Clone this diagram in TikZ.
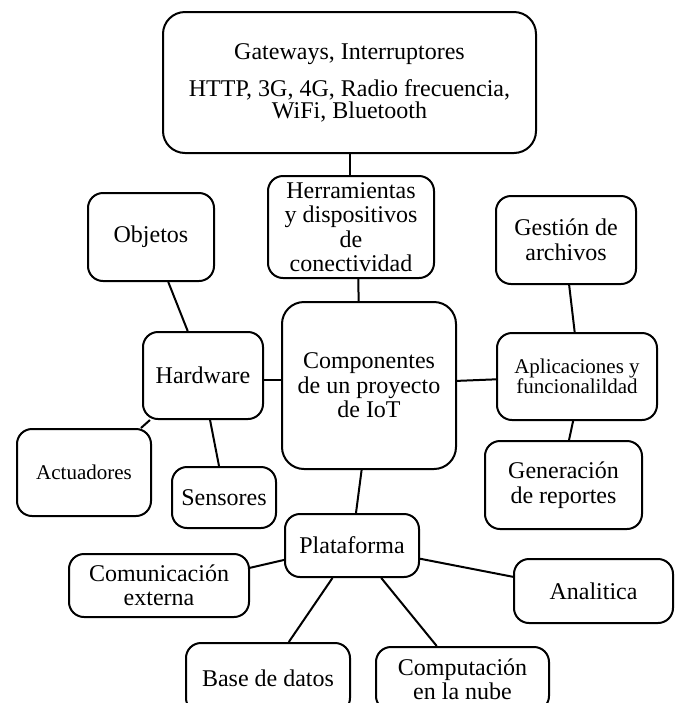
\documentclass[tikz,border=0pt]{standalone}
\usepackage{fontspec}
\setmainfont{Liberation Serif}
\usetikzlibrary{positioning}

\begin{document}
\begin{tikzpicture}[x=0.5pt,y=-0.5pt,line width=1pt,
	caja/.style={draw,rounded corners=7.5pt,align=center,inner sep=1pt,font=\fontsize{12}{12.25}\selectfont},
	cajagrande/.style={caja,rounded corners=11pt},
	chica/.style={font=\fontsize{10.5}{10}\selectfont}]

\useasboundingbox (0,0) rectangle (679,703);

% centro
\node[cajagrande,minimum width=87pt,minimum height=83.5pt] (comp) at (369,385.5) {Componentes\\de un proyecto\\de IoT};

% arriba
\node[cajagrande,minimum width=186.5pt,minimum height=70.5pt,font=\fontsize{12}{11}\selectfont] (gw) at (349.5,82.5) {Gateways, Interruptores\\[6.5pt]HTTP, 3G, 4G, Radio frecuencia,\\WiFi, Bluetooth};
\node[caja,minimum width=83pt,minimum height=51pt] (herr) at (351,227) {Herramientas\\y dispositivos\\de\\conectividad};

% izquierda
\node[caja,minimum width=63pt,minimum height=44pt] (obj) at (151,237) {Objetos};
\node[caja,minimum width=60pt,minimum height=43.5pt] (hw) at (203,375.5) {Hardware};
\node[caja,chica,minimum width=67pt,minimum height=43.5pt] (act) at (84,472.5) {Actuadores};
\node[caja,minimum width=52pt,minimum height=30.5pt] (sen) at (224,497.5) {Sensores};

% derecha
\node[caja,minimum width=70pt,minimum height=44pt] (gest) at (566,240) {Gestión de\\archivos};
\node[caja,chica,minimum width=80pt,minimum height=43.5pt] (apl) at (577,376.5) {Aplicaciones y\\funcionalildad};
\node[caja,minimum width=78.5pt,minimum height=44pt] (gen) at (563.5,485) {Generación\\de reportes};

% abajo
\node[caja,minimum width=67pt,minimum height=31.5pt] (plat) at (352,545.5) {Plataforma};
\node[caja,minimum width=90pt,minimum height=31.5pt] (comu) at (159,585.5) {Comunicación\\externa};
\node[caja,minimum width=79.5pt,minimum height=32pt] (ana) at (593.5,591) {Analitica};
\node[caja,minimum width=82pt,minimum height=35pt] (base) at (268,678) {Base de datos};
\node[caja,minimum width=86.5pt,minimum height=32pt,font=\fontsize{12}{12}\selectfont] (compu) at (462.5,679) {Computación\\en la nube};

% conexiones
\draw (gw.south) -- (gw.south |- herr.north);
\draw (herr.-82) -- (comp.97);
\draw (obj.-69) -- (hw.109);
\draw (hw.-4) -- (hw.-4 -| comp.west);
\draw (hw.220) -- (act.38);
\draw (hw.-81) -- (sen.99);
\draw (comp.3) -- (apl.182);
\draw (gest.-86) -- (apl.93);
\draw (apl.-95) -- (gen.83);
\draw (comp.-95) -- (plat.83);
\draw (plat.192) -- (comu.11);
\draw (plat.-11) -- (ana.170);
\draw (plat.239) -- (base.60);
\draw (plat.-48) -- (compu.128);

\end{tikzpicture}
\end{document}
